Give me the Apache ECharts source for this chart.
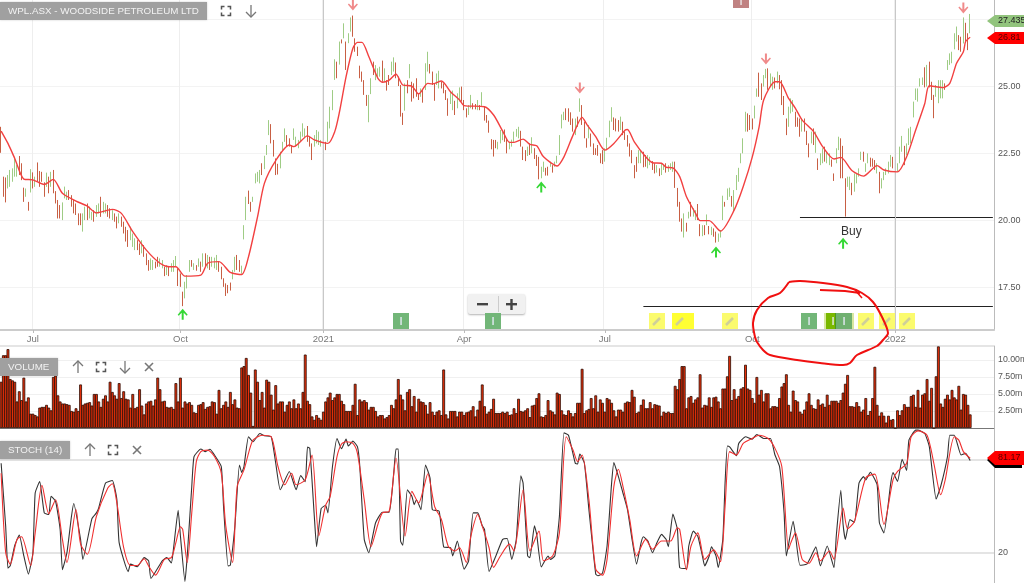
<!DOCTYPE html>
<html><head><meta charset="utf-8">
<style>html,body{margin:0;padding:0;background:#fff;overflow:hidden}#c{width:1024px;height:583px;filter:blur(0.4px)}</style>
<script src="https://cdn.jsdelivr.net/npm/echarts@6/dist/echarts.min.js"></script></head><body><div id="c"></div>
<script>
const tickDays=[14,79,142,204,266,331,394];
const tickLabels=['Jul','Oct','2021','Apr','Jul','Oct','2022'];
const yearDays=[142,394];
const totalDays=438;
const barHigh=[23.48,21.62,21.59,21.68,21.87,21.93,22.36,22.05,22.39,22.12,21.21,21.18,20.68,21.9,21.78,21.62,22.15,21.83,21.8,21.41,21.77,21.62,21.8,21.87,21.08,20.75,20.56,20.66,21.25,21.06,21.12,20.93,20.75,20.62,20.25,20.25,20.25,20.5,20.62,20.5,20.31,20.37,20.56,20.62,20.87,20.68,20.62,20.56,20.44,20.37,20.25,20.13,20.25,20.13,19.94,19.75,19.63,19.75,19.5,19.32,19.25,19.13,19.25,19.07,18.76,18.51,18.57,18.51,18.45,18.63,18.57,18.51,18.26,18.32,18.26,18.39,18.51,18.66,18.2,18.01,17.33,17.7,17.95,18.51,18.51,18.39,18.32,18.57,18.45,18.76,18.76,18.7,18.63,18.63,18.6,18.7,18.45,18.26,17.83,17.64,17.58,17.67,18.14,18.63,18.7,18.51,18.3,19.81,20.87,21.1,20.68,20.87,21.74,21.8,21.87,22.12,22.4,22.8,23.73,23.58,22.99,22.3,22.1,22.55,22.92,23.42,23.17,23.05,22.8,23.42,23.11,22.99,23.3,23.61,23.42,23.51,23.11,22.86,23.17,23.36,23.3,22.99,23.17,22.92,23.67,24.23,24.85,26,25.91,26.66,
26.74,27.34,26.66,26.97,27.56,27.63,26.78,26.47,25.76,25.54,25.22,24.67,24.67,25.29,25.91,25.78,25.66,25.72,25.95,25.66,25.22,25.41,25.91,26.07,25.88,25.35,25.04,24,25.1,25.22,25.82,25.16,25.1,25.29,24.73,24.91,24.85,25.85,26.28,25.82,25.54,25.1,25.47,25.57,25.16,25.1,24.85,24.54,24.79,24.83,24.45,24.73,24.95,24.98,24.48,24.17,24.29,24.67,24.36,24.33,24.48,24.29,24.77,24.23,23.92,23.71,23.02,22.99,22.99,22.92,23.36,23.3,23.38,23.05,22.92,23,23.3,23.4,23.48,23.33,22.74,22.61,22.74,22.86,23.09,22.68,22.43,22.36,21.99,22.18,21.95,21.99,22.18,22.05,22.18,22.4,23.17,23.94,24.04,24.17,24.17,24.02,23.79,23.79,23.86,24.54,24.29,23.67,23.05,23.55,23.23,22.86,22.68,22.8,22.49,22.61,22.68,23.07,23.71,24.21,23.83,23.79,23.73,23.86,23.67,23.3,23.17,22.86,22.61,22.05,22.36,22.61,22.61,22.55,22.43,22.43,22.36,22.2,22.12,22.05,21.93,22.12,22.05,22.12,22.05,22.12,22.18,22.18,21.2,
20.68,20.06,20.25,19.9,20.31,20.68,20.44,20.37,20.6,19.85,19.81,19.81,20.21,19.78,19.75,19.69,19.57,19.5,19.63,20.91,20.68,21.18,21.21,20.9,21.12,21.68,21.95,22.49,23.05,24.04,23.98,23.92,23.79,24.27,24.91,25.5,25.1,25.41,25.64,25.66,25.47,25.35,25.32,25.54,25.41,25.22,24.63,23.79,24.23,24.54,24.48,24.04,23.83,23.79,23.79,23.79,23.33,22.86,23.3,23.42,23.3,22.3,22.49,22.68,22.74,22.55,22.49,22.26,21.74,22.68,23.11,23.05,22.77,21.56,21.62,21.62,21.39,21.74,21.74,21.93,22.55,22.55,22.12,22.49,22.33,22.3,22.24,22.12,21.8,21.56,21.8,21.93,22.18,22.43,22.36,22.05,22.12,22.74,23.14,22.77,22.86,23.42,23.48,24.42,24.91,24.91,25.29,25.32,25.7,25.79,25.91,25.16,24.67,25.04,25.22,25.22,25.22,25.1,25.97,26.22,26.28,26.97,27.22,26.9,26.84,27.56,27.36,26.97,27.69];
const barLow=[22.51,20.87,20.66,21.18,21.24,21.43,21.62,21.62,21.68,21.49,20.68,20.87,20.35,21.03,21.18,21.24,21.43,21.24,21.43,20.87,21.24,21,21.24,21,20.62,20.06,20.06,20,20.81,20.75,20.75,20.5,20.25,20.19,19.81,19.81,19.57,20,20,20.06,20,19.94,20.12,20.25,20.12,20.25,20.25,20.12,20.06,20,19.94,19.69,19.88,19.75,19.5,19.2,19,19.25,19,18.88,18.88,18.7,18.76,18.63,18.32,18.11,18.14,18.14,18.2,18.26,18.26,18.2,17.91,17.95,17.91,18.07,18.07,18.26,17.54,17.51,16.79,17.08,17.45,18.07,18.26,18.14,18.11,18.26,18.07,18.26,18.26,18.2,18.14,18.26,18.2,18.14,18.07,17.79,17.51,17.17,17.27,17.37,17.79,18.07,18.14,18.07,18,19.28,20,20.6,20.31,20.68,21.37,21.43,21.37,21.68,21.9,22.43,23.17,22.86,22.37,21.68,21.7,21.93,22.61,22.92,22.74,22.74,22.49,22.99,22.74,22.68,22.92,23.11,23.05,22.92,22.74,22.24,22.74,22.86,22.8,22.74,22.74,22.61,22.92,23.42,24.1,25.23,25.29,25.8,
26.59,26.78,25.6,26.6,27.03,26.84,26.28,26.12,25.29,25.16,24.67,24.26,23.65,24.7,25.41,25.22,25.29,25.35,25.16,25.16,24.83,25.04,25.41,25.54,25.29,25,23.86,23.55,24.08,24.73,25.29,24.42,24.54,24.6,24.48,24.6,24.38,24.85,25.54,25.47,25.04,24.45,25.04,24.91,24.91,24.73,24.48,23.89,24.33,24.1,23.92,24.17,24.42,24.42,24.1,23.83,23.92,24.17,24.13,24.13,24.1,24.1,24.26,23.71,23.63,23.26,22.64,22.37,22.68,22.64,22.86,22.98,22.92,22.49,22.64,22.74,22.92,23.11,23.05,22.74,22.24,22.2,22.39,22.43,22.49,22.28,22.02,21.52,21.56,21.8,21.66,21.66,21.99,21.77,21.99,22.12,22.43,23.42,23.73,23.73,23.67,23.55,23.3,23.17,23.48,24.04,23.55,23.05,22.7,23.05,22.74,22.43,22.43,22.4,22.12,22.09,22.18,22.61,23.09,23.67,23.36,23.31,23.3,23.36,23.17,22.99,22.74,22.37,22.12,21.56,21.8,22.12,22.12,21.97,21.99,21.93,22.05,21.87,21.74,21.77,21.64,21.68,21.87,21.77,21.8,21.87,21.8,21.2,20.5,
19.94,19.57,19.35,19.57,20.06,20.13,20.13,20,20,19.4,19.4,19.44,19.81,19.47,19.44,19.38,19.16,19.19,19.35,20,20.5,20.75,20.87,20.5,20.31,21.12,21.43,22.12,22.49,23.3,23.3,23.36,23.38,23.79,24.6,24.6,24.48,24.98,25.29,24.86,24.98,24.86,24.91,25.1,24.88,24.29,23.92,23.17,23.48,23.98,24.04,23.48,23.48,23.11,23.3,23.3,22.8,22.34,22.86,22.8,22.51,21.87,22.05,22.12,22.18,22.12,22.05,21.99,21.46,22.12,22.61,21.56,21.56,20.13,21.24,21.12,20.93,21.06,21.37,21.62,22.24,22.18,21.8,22.12,21.99,21.99,21.87,21.74,21,21.18,21.49,21.68,21.74,21.99,21.93,21.87,21.8,22.12,22.55,22.05,22.43,22.8,22.86,23.83,24.48,24.42,24.98,25.04,24.95,24.98,24.95,24.48,23.8,24.6,24.36,24.54,24.54,24.86,25.6,25.79,25.85,26.37,26.66,26.34,26.28,26.59,26.66,26.34,26.97];
const downBars=[0,1,2,8,9,10,12,14,16,17,18,19,21,23,24,25,26,30,31,32,33,34,35,38,41,44,47,48,50,51,53,54,55,56,60,61,63,64,65,68,69,72,74,78,79,80,84,86,88,90,92,96,97,98,99,100,101,104,105,109,110,115,119,120,121,122,126,127,128,135,136,137,143,148,
150,152,155,156,157,158,159,160,161,164,168,170,171,174,175,176,177,179,181,182,183,184,186,189,190,191,194,195,196,197,200,203,204,205,208,209,211,213,214,215,216,217,218,222,223,229,230,231,233,235,236,237,240,241,243,249,250,251,252,254,256,257,258,260,261,262,263,264,265,270,271,272,274,275,276,277,278,279,280,283,284,287,288,290,293,297,298,
299,300,302,304,307,308,310,312,314,315,319,322,329,330,331,334,335,338,341,343,344,345,346,350,351,352,354,355,356,358,360,363,366,367,370,371,372,375,380,383,384,385,387,393,398,407,409,410,411,416,422,423,425,426];
const maDays=[0,3,6,10,14,19,23,27,33,38,42,49,53,58,64,70,74,77,81,88,91,96,101,106,109,113,116,121,127,129,135,138,144,147,149,152,155,157,159,162,166,168,171,174,177,181,184,188,190,194,198,202,204,213,217,221,224,226,230,233,236,239,245,248,252,256,258,262,266,270,275,276,279,284,287,291,293,296,299,302,306,308,312,317,323,327,331,334,336,341,343,347,350,353,358,362,367,370,375,380,386,389,395,399,403,407,409,415,418,421,424,425,427];
const maVals=[23.32,22.86,22.3,21.53,21.5,21.33,21.52,21,20.71,20.52,20.27,20.4,20.25,19.57,18.88,18.39,18.26,18.26,17.91,17.95,18.39,18.45,18.05,17.97,18.63,20.13,21.37,22.22,22.8,22.74,23.14,22.99,22.86,23.3,24,25.35,26.41,26.63,26.63,26.1,25.29,25.14,25.22,25.44,25.04,25,24.7,25.1,25.08,25.19,24.79,24.48,24.27,24.23,23.92,23.32,22.9,22.9,23.02,22.82,22.77,22.36,22.02,22.36,23.17,23.83,23.58,23.11,22.61,22.86,23.36,23.38,22.92,22.36,22.14,22.12,21.97,21.95,21.62,20.87,20.25,19.98,19.98,19.59,20.37,21.25,22.36,23.48,24.48,25.16,25.16,24.54,24.17,23.73,23.3,22.74,22.28,22.34,21.84,21.64,22.03,21.87,21.8,22.36,23.36,24.35,25.01,24.94,25.1,25.85,26.28,26.66,26.82];
const volume=[6.8,10.7,10.7,11.6,7.2,7,6.8,3.9,5.4,4.1,7.4,3.9,4.5,2.1,2.1,1.9,1.7,3,3.1,3.1,3.4,3,2.6,7.5,7.7,4.8,3.9,3.6,3.6,3.5,3.4,2.5,2.4,2.9,2.5,6.4,3.4,3.6,3.7,3.8,3.3,5,5,3.9,3.1,4.3,4.8,3.9,6.8,5.3,4.8,4.3,6.6,4.4,5.4,4.3,4.2,3,5,2.9,3.1,5.7,3.3,2,3.6,3.9,4,3.3,4.2,7.4,5.7,3.9,4,3.1,3,3.1,2.8,6.6,3.9,7.4,3,3.9,3.6,3.8,3.4,2.3,2.2,3.4,3.5,3.8,2.8,3.1,3.2,3.9,3.8,2.1,5.6,2.9,3.4,3.9,3.1,5.3,3.5,4.2,3,2.9,8.9,9.1,10.3,7.8,5.2,0.3,8.6,6.8,4.1,5.3,3,7.1,6.8,4.9,2.7,6.3,3.6,3.9,3.9,2.4,3.4,3.9,2.9,4.2,2.9,3.6,2.9,5.3,10.8,4,3.5,1.7,1.2,1.9,1.5,1.2,2.4,3.9,4.5,5.2,4.1,4.5,5,5,
4,3.5,2.5,2.5,2.5,3.4,6.5,1.9,4.2,3.9,4.1,3.8,2.7,3.1,3.1,2.5,1.7,1.9,1.9,1.4,1.6,1.9,3.4,2.9,4.2,7.2,4.9,4.2,2.6,5.3,5.7,3.2,4.7,2.4,4.3,3.9,3.8,3.4,2.1,3.8,2.4,1.9,2.4,2.6,1.9,8.6,2,1.4,2.5,2.5,2.5,1.7,2.4,2.4,1.9,2.3,2.4,2.6,3.2,1.7,2.7,4,6.4,3.2,2.1,2.4,2.8,4.3,2.2,2.2,2.2,2.4,2.2,2.4,1.9,2,2.9,2.2,4.3,2.5,2.4,2.6,2.9,1.6,3.3,3.4,4.4,5.1,1.7,1.6,1.9,4.1,2.6,2.4,2,5.2,5,2.6,2,1.9,2.6,2.2,1.7,2.2,3.7,3.7,8.7,2.2,2.6,2.8,4.4,2.9,4.8,2.4,4.2,3.7,2.4,4.4,4.2,3.7,2.6,1.7,2.7,2.7,2.4,3.7,3.9,3.8,5.6,4.6,2.2,2.4,3.4,4.2,2.9,2.9,3.8,2.9,3.5,3.4,3.3,1.8,2.4,2.2,2.4,2.2,2.2,6.2,5.7,
7.2,9.1,9.1,2.9,4.5,4.7,3.7,4.2,4.5,7.9,3,3.4,3.3,4.5,3.1,4.5,4.6,3.9,2.9,5.8,5.8,7.6,10.6,4.1,5.7,4.3,4.7,5.8,6,9.3,5.8,5.6,4.4,3.7,7.5,4.9,5.6,3.9,5.1,5.1,2.9,3.2,3.2,3.1,4.4,6.1,6.6,7.9,3.4,2.4,5.5,4.1,3.9,2.4,2.1,2.7,3.9,5.1,3.4,2.9,2.8,4.2,3.4,3.6,3.1,4.9,3.4,4,4,4,3.7,4.1,5.2,6.5,7.8,3.2,3.2,3.1,3.8,3.2,2.4,2.7,4.4,1.9,2.5,4.4,9,3.4,1.8,2.3,1.8,0.8,1.8,1.2,1.3,0,2.6,1.9,2.6,3.5,3.1,3.1,4.7,4.9,3.1,5.6,3,4.9,5.1,7.2,4,5.9,0,7.6,12,3.6,3.1,4.3,4.9,4.2,5.6,4.5,4.2,6.2,2.7,5,4.9,3.4,2];
const kDays=[0,2,3,4,6,8,10,12,14,15,17,19,21,22,24,26,27,29,31,32,35,36,40,42,43,46,49,51,52,56,57,60,63,65,66,71,73,75,76,78,79,81,82,84,85,88,90,92,94,97,98,100,101,103,105,106,107,109,111,114,116,119,121,123,127,130,132,134,135,136,138,139,141,143,144,146,148,150,152,153,155,157,158,160,162,165,168,171,173,174,175,176,177,179,181,182,183,185,187,189,190,193,195,198,199,201,204,206,208,210,212,213,215,218,221,223,225,227,229,230,232,233,235,236,238,241,242,244,246,248,250,253,254,255,257,259,262,263,265,267,269,270,272,274,276,278,280,282,283,285,287,289,291,293,294,296,298,299,302,303,305,307,309,310,312,313,315,316,318,319,320,321,324,325,328,331,333,336,339,341,343,345,346,349,350,352,355,357,359,361,364,367,368,370,371,372,374,376,378,380,381,383,386,387,389,392,393,395,397,399,400,403,404,407,409,412,414,417,418,420,423,425,427];
const kVals=[77.9,37.3,10.2,11.7,24.9,31.6,18.1,6.4,20.2,58.7,66.1,45.9,44.8,56.6,53.4,35.2,9.2,20.2,43.7,51.9,28.8,15.9,42.2,45.9,49.1,65.1,66.8,54.4,26.7,7.9,12.8,11.1,17,14.9,3.6,14.9,17,13.6,23.4,47.6,31,1.7,18.1,62.9,82.2,87.1,85.4,86.9,83.2,75.8,50.1,11.7,12.1,37.3,76.8,71.9,75.8,95,91.8,97.1,95.6,95,77.9,60.8,72.6,60.8,70,66,88.4,87.5,43.7,24.1,48.6,50.8,45.9,75.8,93.9,87.3,93.5,89,92.2,88.6,76.8,28.8,20.2,39.5,46.3,46.3,71.5,87.1,87.1,27.7,25,60.8,56.6,51.2,54.4,48,76.8,68.3,48,47,24,23.4,18.1,27.7,9.6,14.9,45.9,45.9,37.6,35.2,8.1,18.1,28.8,29.4,15.9,28.8,69.8,65.1,18.1,17,37.6,32,11,18.1,15.9,18.1,43.7,97.5,96,77.9,77.4,83.9,77.9,48,6.4,5.3,7,24.5,65.1,78.3,69.3,58.7,48,28.8,12.8,26.7,30.5,27.7,20.2,26.7,32,28.8,24,45.2,35.2,10.6,10,24.5,34.1,30.8,18.1,11.7,18.1,24,18.1,10.6,28.8,65.1,89,88.4,82.8,90.7,95,93.5,96.5,93.9,93.9,83.2,75.8,45.9,18.1,40.5,32,12.1,12.8,18.1,24,11.7,24.5,10.6,31,60.4,38.4,28.8,41.6,39.8,65.1,69.3,67.2,72.1,64,39.5,33,65.1,71.9,66.2,80.5,73.2,92.8,99.3,99.3,97.1,88.6,54.8,62.9,82.2,96,96,83.2,84.3,79.6];
const dDays=[0,2,4,7,9,13,15,18,21,24,27,29,33,35,38,42,47,49,51,54,57,60,63,65,68,72,75,77,79,80,82,84,86,88,91,94,97,99,102,104,107,109,111,115,119,122,125,128,130,134,137,140,143,145,148,150,152,155,157,160,163,166,168,171,174,178,181,184,186,188,191,194,197,200,202,205,207,210,212,215,217,220,224,226,230,233,237,239,243,246,249,252,254,256,259,262,265,267,270,272,274,277,280,284,287,291,295,298,299,302,304,307,310,314,317,319,321,324,327,331,334,338,341,344,347,348,350,353,356,359,361,365,367,371,373,376,381,385,389,393,395,399,401,404,408,411,414,416,420,422,424,427];
const dVals=[71.5,20.2,12.8,28.8,30.5,11.9,33,63.6,45.4,54.4,28.8,13.9,48,25.7,19.2,43.7,62,64.7,52.3,23.4,11.9,11.9,16.3,11.6,5.7,16,17,26.7,36.9,35.2,13.9,45.9,78.9,85.4,86.4,82.2,71.5,37.3,13.9,62.9,73.6,84.3,92.8,96,95,75.8,64,71.5,64,67.2,83.2,31,50.8,56.6,82.2,90.3,91.8,90.7,84.3,54.4,24,38.4,45.9,47,81.1,31,59.8,52.3,60.8,71.1,50.1,41.6,24.4,21.3,23.4,13.9,31,44.8,37.3,23.4,10.7,18.1,25.7,21.3,60.8,21.3,34.1,15,18.1,33,95,86.4,79,83.2,54.4,9.6,5.7,15.9,63,74,63,41.6,18.1,28.8,22.4,27.7,27.7,36.3,35.2,9.2,24.5,33,15.9,22,14.4,50.1,85.4,83.2,90.7,93.9,96,93.9,87.5,75.8,22.4,26.7,33,15.9,13.4,20.2,15,21.3,15.9,49,35.6,40.4,68.6,70.9,38.5,67.2,72.6,77.9,95,98.8,96,77.9,57.6,67.2,95,92.8,85.4,81.1];
const upSignals=[[80,16.49],[238,21.23],[315,18.81],[371,19.14]];
const downSignals=[[155,28.02],[255,24.93],[337,26.01],[424,27.91]];
const titleMain='WPL.ASX - WOODSIDE PETROLEUM LTD';

const categories=Array.from({length:totalDays},(_,i)=>{const k=tickDays.indexOf(i);return k>=0?tickLabels[k]:''});
const FONT='"Liberation Sans",Arial,sans-serif';
const isTick=(i)=>tickDays.includes(i);
const downSet=new Set(downBars);
const candle=barHigh.map((h,i)=>downSet.has(i)?[h,barLow[i],barLow[i],h]:[barLow[i],h,barLow[i],h]);
const pair=(a,b)=>a.map((x,i)=>[x,b[i]]);
const UP='M-1,6 L-1,-1 L-4,2 L-5,1 L0,-5 L5,1 L4,2 L1,-1 L1,6 Z';
const DOWN='M-1,-6 L-1,1 L-4,-2 L-5,-1 L0,5 L5,-1 L4,-2 L1,1 L1,-6 Z';
const mk=(a,path,col)=>a.map(p=>({coord:p,symbol:'path://'+path,symbolSize:[10,11],itemStyle:{color:col}}));

const g=[];
const ic='#777';
function line(pts,w,c){g.push({type:'polyline',z:100,shape:{points:pts},style:{stroke:c||ic,lineWidth:w||1.3,fill:null}})}
function arrUp(x,y){line([[x,y-6],[x,y+6]]);line([[x-5,y-1],[x,y-6],[x+5,y-1]])}
function arrDn(x,y){line([[x,y-6],[x,y+6]]);line([[x-5,y+1],[x,y+6],[x+5,y+1]])}
function expand(x,y){[[-1,-1],[1,-1],[1,1],[-1,1]].forEach(([a,b])=>{line([[x+a*4.5,y+b*1.5],[x+a*4.5,y+b*4.5],[x+a*1.5,y+b*4.5]],1.5,'#555')})}
function cross(x,y){line([[x-4,y-4],[x+4,y+4]],1.6);line([[x-4,y+4],[x+4,y-4]],1.6)}
function header(txt,w,y,fs){g.push({type:'rect',z:100,shape:{x:0,y:y,width:w,height:18},style:{fill:'#a0a0a0',shadowBlur:2,shadowColor:'rgba(0,0,0,.2)'}});
 g.push({type:'text',z:101,x:8,y:y+9,style:{text:txt,fill:'#f2f2f2',font:fs+'px '+FONT,verticalAlign:'middle',align:'left'}})}
header(titleMain,207,2,9.8);expand(226,11);arrDn(251,11);
header('VOLUME',58,358,9.8);arrUp(78,367);expand(101,367);arrDn(125,367);cross(149,367);
header('STOCH (14)',70,441,9.8);arrUp(90,450);expand(113,450);cross(137,450);
function tag(y,h,col,txt,tc,shadow){if(shadow)g.push({type:'polygon',z:100,shape:{points:[[987,y+2],[995,y-h+3],[1022,y-h+3],[1022,y+h+3],[995,y+h+3]]},style:{fill:'#000'}});
 g.push({type:'polygon',z:101,shape:{points:[[987,y],[995,y-h],[1024,y-h],[1024,y+h],[995,y+h]]},style:{fill:col}});
 g.push({type:'text',z:102,x:998,y:y,style:{text:txt,fill:tc,font:'9px '+FONT,verticalAlign:'middle'}})}
tag(21,6,'#92c47d','27.435','#222');tag(38,6,'#ff0000','26.81','#500');tag(458,7,'#ff0000','81.17','#500',true);
g.push({type:'rect',z:100,shape:{x:468,y:294,width:57,height:20,r:2},style:{fill:'#f1f1f1',shadowBlur:2,shadowColor:'rgba(0,0,0,.3)',shadowOffsetY:1}});
g.push({type:'rect',z:101,shape:{x:477,y:303,width:11,height:2.4},style:{fill:'#444'}});
g.push({type:'rect',z:101,shape:{x:506,y:303,width:11,height:2.4},style:{fill:'#444'}});
g.push({type:'rect',z:101,shape:{x:510.3,y:299,width:2.4,height:11},style:{fill:'#444'}});
g.push({type:'rect',z:101,shape:{x:498,y:296,width:1,height:16},style:{fill:'#ccc'}});
function box(x,c,w,y,h){g.push({type:'rect',z:100,shape:{x:x,y:y||313,width:w||16,height:h||16},style:{fill:c}})}
function info(x,c,y,h){box(x,c||'#72b678',16,y,h);g.push({type:'rect',z:101,shape:{x:x+7.4,y:(y||313)+4,width:1.3,height:8},style:{fill:'#eef'}})}
function note(x,c,w){box(x,c||'#fbfb6e',w);g.push({type:'polyline',z:101,shape:{points:[[x+4,313+12],[x+11,313+5]]},style:{stroke:'#cfcf9a',lineWidth:2.5}})}
info(393);info(485);note(649);note(672,'#ffff33',22);note(722);info(801);
box(824,'#d8e8a0',30);box(826,'#7ab800',17);box(835,'#4a9a20',6);info(836,'#70b070');g.push({type:'rect',z:102,shape:{x:832.4,y:317,width:1.3,height:8},style:{fill:'#eef'}});
note(858);note(879);note(899);
box(733,'#c08282',16,-6,14);g.push({type:'rect',z:101,shape:{x:740.4,y:0,width:1.3,height:5},style:{fill:'#eee'}});
g.push({type:'text',z:100,x:841,y:232,style:{text:'Buy',fill:'#333',font:'12px '+FONT,verticalAlign:'middle'}});
g.push({type:'rect',z:1,shape:{x:0,y:345.5,width:994,height:1},style:{fill:'#ccc'}});
g.push({type:'polyline',z:110,shape:{smooth:0.3,points:[[789,282],[800,281],[823,283],[847,287],[862,293],[873,302],[882,317],[888,333],[883,340],[877,346],[857,355],[850,363],[843,365],[820,363],[797,360],[770,355],[763,350],[757,342],[755,337],[753,323],[757,310],[768,298],[780,293],[789,282]]},style:{stroke:'#f01010',lineWidth:2,fill:null}});
g.push({type:'polyline',z:110,shape:{points:[[820,290],[845,291],[860,293]]},style:{stroke:'#f01010',lineWidth:2,fill:null}});
g.push({type:'polyline',z:110,shape:{points:[[855,290],[862,298]]},style:{stroke:'#f01010',lineWidth:1.5,fill:null}});

const axisCommon={type:'category',data:categories,boundaryGap:true};
const gridCommon={left:0,right:30,outerBoundsMode:'none',containLabel:false};
const opt={animation:false,backgroundColor:'#fff',textStyle:{fontFamily:FONT},
grid:[{...gridCommon,top:0,height:330},{...gridCommon,top:346,height:82},{...gridCommon,top:429,height:155}],
xAxis:[
 {...axisCommon,gridIndex:0,axisLine:{lineStyle:{color:'#ccc',width:2}},axisTick:{show:true,alignWithLabel:true,interval:(i)=>isTick(i),length:3,lineStyle:{color:'#bbb'}},
  axisLabel:{interval:(i)=>isTick(i),color:'#777',fontSize:9.5,margin:4,formatter:v=>v},splitLine:{show:true,interval:(i)=>isTick(i),lineStyle:{color:'#eeeeee'}}},
 {...axisCommon,gridIndex:1,axisLine:{lineStyle:{color:'#777',width:1}},axisTick:{show:false},axisLabel:{show:false}},
 {...axisCommon,gridIndex:2,axisLine:{show:false},axisTick:{show:false},axisLabel:{show:false}}
],
yAxis:[
 {type:'value',gridIndex:0,position:'right',min:15.9,max:28.21,axisLine:{show:true,lineStyle:{color:'#bbb'}},axisTick:{show:false,customValues:[17.5,20,22.5,25,27.5]},
  axisLabel:{customValues:[17.5,20,22.5,25],color:'#555',fontSize:9,margin:4,formatter:v=>v.toFixed(2)},splitLine:{show:true,lineStyle:{color:'#f3f3f3'}}},
 {type:'value',gridIndex:1,position:'right',min:0,max:12.06,axisLine:{show:true,lineStyle:{color:'#bbb'}},axisTick:{show:false,customValues:[2.5,5,7.5,10]},
  axisLabel:{customValues:[2.5,5,7.5,10],color:'#555',fontSize:8.8,margin:4,formatter:v=>v.toFixed(2)+'m'},splitLine:{show:true,lineStyle:{color:'#f0f0f0'}}},
 {type:'value',gridIndex:2,position:'right',min:0,max:100,axisLine:{show:true,lineStyle:{color:'#bbb'}},axisTick:{show:false,customValues:[20,80]},
  axisLabel:{customValues:[20],color:'#555',fontSize:9,margin:4},splitLine:{show:true,lineStyle:{color:'#e4e4e4',width:2}}}
],
series:[
 {type:'candlestick',xAxisIndex:0,yAxisIndex:0,data:candle,barWidth:1,itemStyle:{color:'#9fcc85',color0:'#c85f44',borderColor:'#9fcc85',borderColor0:'#c85f44',borderWidth:1},
  markLine:{silent:true,symbol:'none',label:{show:false},animation:false,data:[
    [{coord:[352,20.11],lineStyle:{color:'#222',width:1,type:'solid'}},{coord:[437,20.11]}],
    [{coord:[283,16.79],lineStyle:{color:'#222',width:1,type:'solid'}},{coord:[437,16.79]}],
    {xAxis:yearDays[0],lineStyle:{color:'#c8c8c8',width:1,type:'solid'}},
    {xAxis:yearDays[1],lineStyle:{color:'#c8c8c8',width:1,type:'solid'}}]},
  markPoint:{silent:true,animation:false,label:{show:false},data:[...mk(upSignals,UP,'#35d835'),...mk(downSignals,DOWN,'#f08a8a')]}},
 {type:'line',xAxisIndex:0,yAxisIndex:0,data:pair(maDays,maVals),symbol:'none',lineStyle:{color:'#f24040',width:1.4},smooth:0.25,z:5},
 {type:'bar',xAxisIndex:1,yAxisIndex:1,data:volume,barWidth:2.8,itemStyle:{color:'#e8300a',borderColor:'#2a0a00',borderWidth:0.8}},
 {type:'line',xAxisIndex:2,yAxisIndex:2,data:pair(kDays,kVals),symbol:'none',lineStyle:{color:'#333',width:1.1},smooth:0.15},
 {type:'line',xAxisIndex:2,yAxisIndex:2,data:pair(dDays,dVals),symbol:'none',lineStyle:{color:'#f03030',width:1.1},smooth:0.25}
],
graphic:g};
const chart=echarts.init(document.getElementById('c'),null,{renderer:'canvas',width:1024,height:583});
chart.setOption(opt);
</script></body></html>
